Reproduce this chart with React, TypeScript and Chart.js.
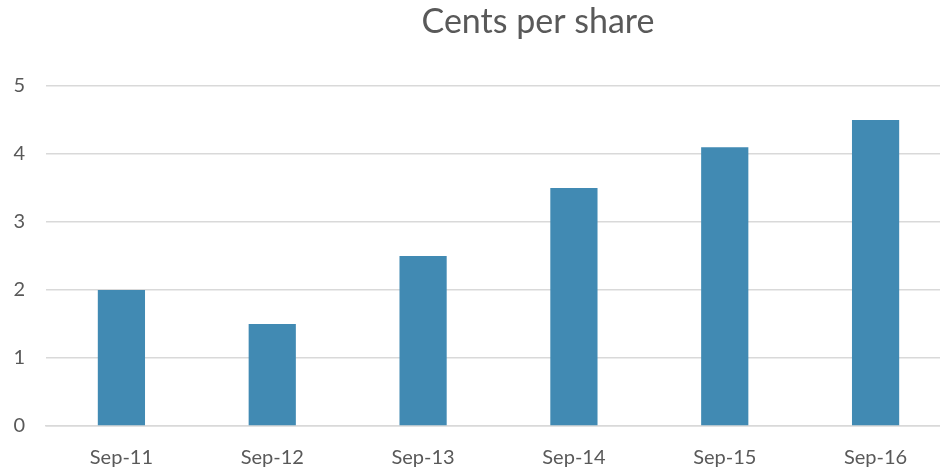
import React, { useEffect, useRef } from "react";
import { Chart, registerables } from "chart.js";

Chart.register(...registerables);

const categories = ["Sep-11", "Sep-12", "Sep-13", "Sep-14", "Sep-15", "Sep-16"];
const centsPerShare = [2, 1.5, 2.5, 3.5, 4.1, 4.5];
const titleText = "Cents per share";
const FONT = "Lato, 'Open Sans', sans-serif";

const titlePlugin = {
  id: "customTitle",
  afterDraw(chart: any) {
    const ctx = chart.ctx;
    ctx.save();
    ctx.font = `34px ${FONT}`;
    ctx.fillStyle = "#595959";
    ctx.textAlign = "center";
    ctx.textBaseline = "middle";
    ctx.fillText(titleText, 538, 22);
    ctx.restore();
  },
};

export default function App() {
  const ref = useRef<HTMLCanvasElement>(null);
  useEffect(() => {
    if (!ref.current) return;
    const chart = new Chart(ref.current, {
      type: "bar",
      data: {
        labels: categories,
        datasets: [
          {
            label: titleText,
            data: centsPerShare,
            backgroundColor: "#418AB3",
            categoryPercentage: 1,
            barPercentage: 0.313,
          },
        ],
      },
      options: {
        responsive: false,
        animation: false,
        layout: { padding: { top: 86, right: 10, left: 0, bottom: 0 } },
        plugins: { legend: { display: false }, tooltip: { enabled: false }, title: { display: false } },
        scales: {
          x: {
            grid: { display: false, drawTicks: false },
            border: { display: true, color: "#d9d9d9", width: 1.5 },
            ticks: { color: "#595959", font: { family: FONT, size: 20 }, padding: 20, maxRotation: 0 },
            afterFit: (s: any) => { s.height = 42; },
          },
          y: {
            min: 0,
            max: 5,
            grid: { color: "#d9d9d9", lineWidth: 1.5, drawTicks: false },
            border: { display: false },
            ticks: { stepSize: 1, color: "#595959", font: { family: FONT, size: 20 }, padding: 21 },
            afterFit: (s: any) => { s.width = 46; },
          },
        },
      },
      plugins: [titlePlugin],
    });
    return () => chart.destroy();
  }, []);
  return (
    <div style={{ position: "absolute", left: 0, top: 0, width: 940, height: 468, overflow: "hidden", background: "#fff" }}>
      <canvas ref={ref} width={961} height={468} style={{ display: "block" }} />
    </div>
  );
}
